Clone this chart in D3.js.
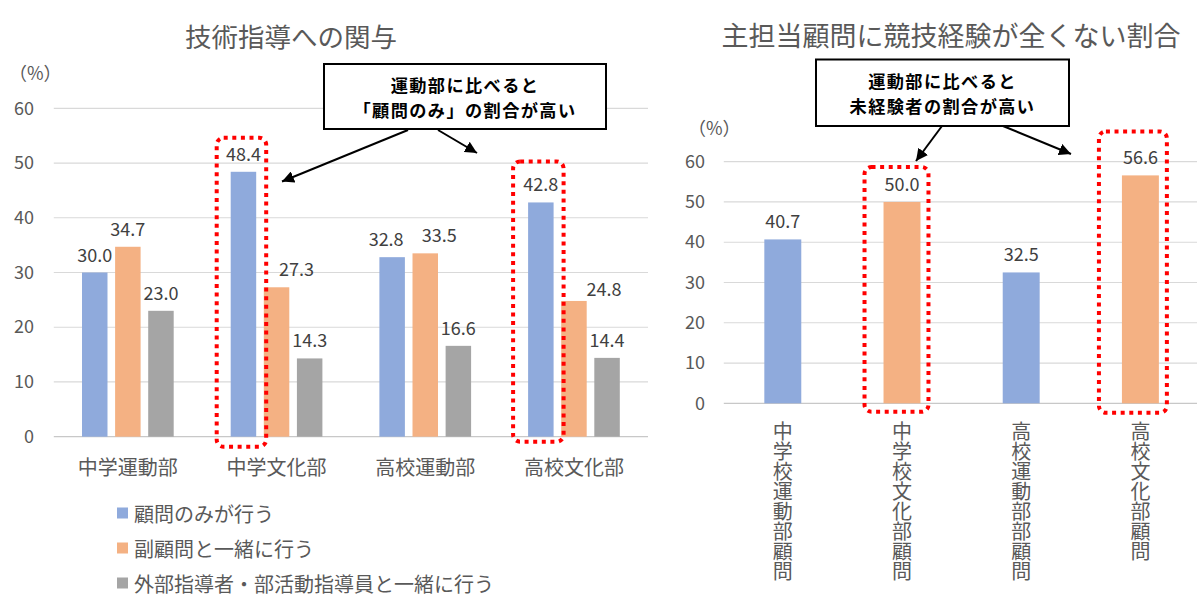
<!DOCTYPE html>
<html>
<head>
<meta charset="utf-8">
<script src="https://cdn.jsdelivr.net/npm/d3@7"></script>
<style>
  html, body { margin: 0; padding: 0; background: #fff; }
  svg { display: block; }
  text { font-family: "Noto Sans CJK JP", "Noto Sans", sans-serif; }
</style>
</head>
<body>
<svg id="chart" width="1200" height="613"></svg>
<script>
// ---------- data ----------
const leftTitle = "技術指導への関与";
const leftCategories = ["中学運動部", "中学文化部", "高校運動部", "高校文化部"];
const leftSeries = ["顧問のみが行う", "副顧問と一緒に行う", "外部指導者・部活動指導員と一緒に行う"];
const leftOnlyAdvisor = [30.0, 48.4, 32.8, 42.8];
const leftWithSubAdvisor = [34.7, 27.3, 33.5, 24.8];
const leftWithExternal = [23.0, 14.3, 16.6, 14.4];
const leftTicks = [0, 10, 20, 30, 40, 50, 60];
const leftNote = ["運動部に比べると", "「顧問のみ」の割合が高い"];

const rightTitle = "主担当顧問に競技経験が全くない割合";
const rightCategories = ["中学校運動部顧問", "中学校文化部顧問", "高校運動部部顧問", "高校文化部顧問"];
const rightValues = [40.7, 50.0, 32.5, 56.6];
const rightTicks = [0, 10, 20, 30, 40, 50, 60];
const rightNote = ["運動部に比べると", "未経験者の割合が高い"];

// ---------- styles / layout ----------
const colors = ["#8faadc", "#f4b183", "#a5a5a5"];
const rightColors = ["#8faadc", "#f4b183", "#8faadc", "#f4b183"];
const textColor = "#595959";
const gridColor = "#d9d9d9";
const red = "#ff0000";

const svg = d3.select("#chart");

// label nudges (layout only): [categoryIndex, seriesIndex, dx, dy]
const leftLabelNudges = [[1, 1, 20, 0], [2, 0, -6, 0], [2, 1, 14, 0], [3, 1, 30, 6]];

// ---------- left chart ----------
const L = { x0: 53.5, x1: 648.3, yTop: 108.3, yBot: 436.7 };
const yL = d3.scaleLinear().domain([0, 60]).range([L.yBot, L.yTop]);
const xL = d3.scaleBand().domain(leftCategories).range([L.x0, L.x1]).padding(0);
const groupW = 91.7;
const xLs = d3.scaleBand().domain(leftSeries).range([0, groupW]).paddingInner(0.23);
const groupOff = (xL.bandwidth() - groupW) / 2;
const leftData = [leftOnlyAdvisor, leftWithSubAdvisor, leftWithExternal];

// gridlines
const gL = svg.append("g");
gL.selectAll("line.grid").data(leftTicks).join("line")
  .attr("x1", 53.8).attr("x2", 648)
  .attr("y1", d => yL(d)).attr("y2", d => yL(d))
  .attr("stroke", d => d === 0 ? "#c8c8c8" : gridColor).attr("stroke-width", 1.2);

// y axis labels via d3 axis
const axL = svg.append("g").attr("transform", "translate(40,0)")
  .call(d3.axisLeft(yL).tickValues(leftTicks).tickSize(0).tickPadding(6));
axL.select(".domain").remove();
axL.selectAll("text").attr("fill", textColor).style("font-size", "18px")
  .style("font-family", "'Noto Sans CJK JP', sans-serif");

svg.append("text").attr("x", 9).attr("y", 80).attr("fill", textColor)
  .style("font-size", "18px").text("（%）");

// bars
leftData.forEach((vals, si) => {
  gL.selectAll("rect.s" + si).data(vals).join("rect")
    .attr("x", (d, i) => xL(leftCategories[i]) + groupOff + xLs(leftSeries[si]))
    .attr("width", xLs.bandwidth())
    .attr("y", d => yL(d))
    .attr("height", d => yL(0) - yL(d))
    .attr("fill", colors[si]);
});
// value labels
leftData.forEach((vals, si) => {
  gL.selectAll("text.v" + si).data(vals).join("text")
    .attr("x", (d, i) => {
      const n = leftLabelNudges.find(a => a[0] === i && a[1] === si);
      return xL(leftCategories[i]) + groupOff + xLs(leftSeries[si]) + xLs.bandwidth() / 2 + (n ? n[2] : 0);
    })
    .attr("y", (d, i) => {
      const n = leftLabelNudges.find(a => a[0] === i && a[1] === si);
      return yL(d) - 19 + (n ? n[3] : 0);
    })
    .attr("text-anchor", "middle").attr("dominant-baseline", "central")
    .attr("fill", "#404040").style("font-size", "18px")
    .text(d => d.toFixed(1));
});
// category labels
gL.selectAll("text.cat").data(leftCategories).join("text")
  .attr("x", d => xL(d) + xL.bandwidth() / 2)
  .attr("y", 466).attr("text-anchor", "middle").attr("dominant-baseline", "central")
  .attr("fill", textColor).style("font-size", "20px").text(d => d);

// title
svg.append("text").attr("x", 291).attr("y", 35).attr("text-anchor", "middle")
  .attr("dominant-baseline", "central").attr("fill", textColor)
  .style("font-size", "26.5px").text(leftTitle);

// legend
const leg = svg.append("g");
leftSeries.forEach((s, i) => {
  const cy = 513 + i * 35;
  leg.append("rect").attr("x", 117).attr("y", cy - 5.5).attr("width", 11).attr("height", 11).attr("fill", colors[i]);
  leg.append("text").attr("x", 134).attr("y", cy).attr("dominant-baseline", "central")
    .attr("fill", textColor).style("font-size", "20px").text(s);
});

// ---------- right chart ----------
const R = { x0: 723.2, x1: 1200, yTop: 161.7, yBot: 403.3 };
const yR = d3.scaleLinear().domain([0, 60]).range([R.yBot, R.yTop]);
const xR = d3.scaleBand().domain(rightCategories).range([R.x0, R.x1]).paddingInner(0.69).paddingOuter(0.345);
const gR = svg.append("g");
gR.selectAll("line.grid").data(rightTicks).join("line")
  .attr("x1", 723.8).attr("x2", 1197)
  .attr("y1", d => yR(d)).attr("y2", d => yR(d))
  .attr("stroke", d => d === 0 ? "#c8c8c8" : gridColor).attr("stroke-width", 1.2);

const axR = svg.append("g").attr("transform", "translate(711,0)")
  .call(d3.axisLeft(yR).tickValues(rightTicks).tickSize(0).tickPadding(6));
axR.select(".domain").remove();
axR.selectAll("text").attr("fill", textColor).style("font-size", "18px")
  .style("font-family", "'Noto Sans CJK JP', sans-serif");

svg.append("text").attr("x", 688).attr("y", 135).attr("fill", textColor)
  .style("font-size", "18px").text("（%）");

gR.selectAll("rect.bar").data(rightValues).join("rect")
  .attr("x", (d, i) => xR(rightCategories[i]))
  .attr("width", xR.bandwidth())
  .attr("y", d => yR(d)).attr("height", d => yR(0) - yR(d))
  .attr("fill", (d, i) => rightColors[i]);
gR.selectAll("text.v").data(rightValues).join("text")
  .attr("x", (d, i) => xR(rightCategories[i]) + xR.bandwidth() / 2)
  .attr("y", d => yR(d) - 19)
  .attr("text-anchor", "middle").attr("dominant-baseline", "central")
  .attr("fill", "#404040").style("font-size", "18px").text(d => d.toFixed(1));
gR.selectAll("text.cat").data(rightCategories).join("text")
  .attr("x", d => xR(d) + xR.bandwidth() / 2)
  .attr("y", 421)
  .style("writing-mode", "vertical-rl")
  .attr("text-anchor", "start")
  .attr("fill", textColor).style("font-size", "20px").text(d => d);

svg.append("text").attr("x", 951).attr("y", 34).attr("text-anchor", "middle")
  .attr("dominant-baseline", "central").attr("fill", textColor)
  .style("font-size", "27px").text(rightTitle);

// ---------- annotations ----------
svg.append("defs").append("marker").attr("id", "ah")
  .attr("viewBox", "0 0 10 10").attr("refX", 10).attr("refY", 5)
  .attr("markerWidth", 6).attr("markerHeight", 6).attr("markerUnits", "strokeWidth")
  .attr("orient", "auto")
  .append("path").attr("d", "M0,0 L10,5 L0,10 Z").attr("fill", "#000");

function noteBox(x0, y0, x1, y1, lines) {
  svg.append("rect").attr("x", x0).attr("y", y0).attr("width", x1 - x0).attr("height", y1 - y0)
    .attr("fill", "#fff").attr("stroke", "#000").attr("stroke-width", 2);
  const cy = (y0 + y1) / 2;
  lines.forEach((s, i) => {
    svg.append("text").attr("x", (x0 + x1) / 2).attr("y", cy + (i - 0.5) * 25)
      .attr("text-anchor", "middle").attr("dominant-baseline", "central")
      .attr("fill", "#000").style("font-size", "17.2px").style("font-weight", "bold")
      .style("letter-spacing", "1.4px").text(s);
  });
}
function arrow(x1, y1, x2, y2) {
  svg.append("line").attr("x1", x1).attr("y1", y1).attr("x2", x2).attr("y2", y2)
    .attr("stroke", "#000").attr("stroke-width", 2).attr("marker-end", "url(#ah)");
}
noteBox(324, 64, 606, 129, leftNote);
arrow(408, 130, 282, 181.5);
arrow(438, 130, 477, 153);
noteBox(816, 59.5, 1069, 126, rightNote);
arrow(942, 126, 916, 161);
arrow(1003, 126, 1071, 154);

// red dotted highlight boxes around bars
function hl(x0, y0, x1, y1) {
  svg.append("rect").attr("x", x0).attr("y", y0).attr("width", x1 - x0).attr("height", y1 - y0)
    .attr("rx", 7).attr("fill", "none").attr("stroke", red).attr("stroke-width", 4)
    .attr("stroke-dasharray", "4 4.6");
}
{
  const bx = i => xL(leftCategories[i]) + groupOff + xLs(leftSeries[0]);
  const bw = xLs.bandwidth();
  hl(bx(1) - 14, yL(leftOnlyAdvisor[1]) - 34, bx(1) + bw + 10, yL(0) + 10);
  hl(bx(3) - 15, yL(leftOnlyAdvisor[3]) - 41, bx(3) + bw + 10, yL(0) + 5);
  const rx = i => xR(rightCategories[i]);
  const rw = xR.bandwidth();
  hl(rx(1) - 19, yR(rightValues[1]) - 35, rx(1) + rw + 8, yR(0) + 8.5);
  hl(rx(3) - 23, yR(rightValues[3]) - 44, rx(3) + rw + 8, yR(0) + 9.5);
}
</script>
</body>
</html>
